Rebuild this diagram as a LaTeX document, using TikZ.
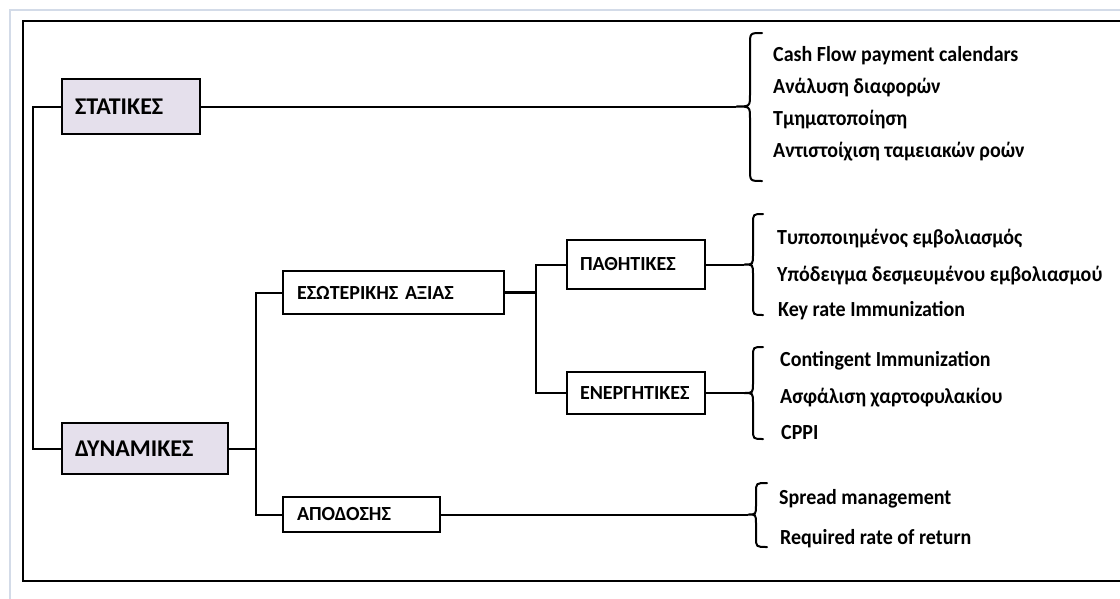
\documentclass[tikz,border=0pt]{standalone}
\usepackage{fontspec}
\setmainfont{Carlito}
\definecolor{lav}{HTML}{E5E0EC}
\definecolor{pale}{HTML}{D3DBE8}
\newcommand{\itm}[1]{\scalebox{0.93}[1]{#1}}
\tikzset{
  box/.style={draw=black, line width=2.2pt, fill=white, inner ysep=0pt, align=left,
     font=\bfseries\fontsize{20}{24}\selectfont},
  bigbox/.style={box, fill=lav, font=\bfseries\fontsize{24}{28}\selectfont},
  conn/.style={draw=black, line width=2pt},
  brace/.style={draw=black, line width=2pt, line cap=round},
  item/.style={anchor=west, inner sep=0pt, font=\bfseries\fontsize{21.5}{25}\selectfont}
}
\begin{document}
\begin{tikzpicture}[x=1pt,y=-1pt]
\clip (0,0) rectangle (1120,598);
\fill[white] (0,0) rectangle (1120,598);
% frames
\draw[pale, line width=2pt] (10,10) rectangle (1150,640);
\draw[black, line width=2.5pt] (23,21) rectangle (1150,581);

% boxes
\node[bigbox, minimum height=55pt, text width=112pt, inner xsep=13pt] (sta) at (131,106.5) {ΣΤΑΤΙΚΕΣ};
\node[bigbox, minimum height=51pt, text width=140pt, inner xsep=13pt] (dyn) at (145,448.5) {ΔΥΝΑΜΙΚΕΣ};
\node[box, minimum height=43pt, text width=193pt, inner xsep=14pt] (eso) at (393.5,292.5) {ΕΣΩΤΕΡΙΚΗΣ ΑΞΙΑΣ};
\node[box, minimum height=49pt, text width=112pt, inner xsep=13pt] (pat) at (636,264.5) {ΠΑΘΗΤΙΚΕΣ};
\node[box, minimum height=42pt, text width=112pt, inner xsep=13pt] (ene) at (636,393) {ΕΝΕΡΓΗΤΙΚΕΣ};
\node[box, minimum height=35pt, text width=129pt, inner xsep=14pt] (apo) at (361.5,514.5) {ΑΠΟΔΟΣΗΣ};

% junctions
\coordinate (l1) at (33,106.5);
\coordinate (j1) at (256,448.5);
\coordinate (j2) at (536,292.5);

% connectors
\draw[conn] (sta.west) -- (l1) |- (dyn.west);
\draw[conn] (dyn.east) -- (j1);
\draw[conn] (eso.west) -| (j1) |- (apo.west);
\draw[conn, line width=3.4pt] (eso.east) -- (j2);
\draw[conn] (pat.west) -| (j2) |- (ene.west);

% brace tips
\coordinate (t1) at (736,106.5);
\coordinate (t2) at (744,264.5);
\coordinate (t3) at (744,393);
\coordinate (t4) at (748,514.5);
\draw[conn] (sta.east) -- (t1);
\draw[conn] (pat.east) -- (t2);
\draw[conn] (ene.east) -- (t3);
\draw[conn] (apo.east) -- (t4);

% braces
\draw[brace] (762,33) .. controls (750,33) .. (750,45) -- (750,94.5)
  .. controls (750,106.5) .. (736,106.5) .. controls (750,106.5) .. (750,118.5)
  -- (750,169) .. controls (750,181) .. (762,181);
\draw[brace] (763,214) .. controls (753,214) .. (753,224) -- (753,254.5)
  .. controls (753,264.5) .. (744,264.5) .. controls (753,264.5) .. (753,274.5)
  -- (753,305) .. controls (753,315) .. (763,315);
\draw[brace] (763,347) .. controls (753,347) .. (753,357) -- (753,383)
  .. controls (753,393) .. (744,393) .. controls (753,393) .. (753,403)
  -- (753,429) .. controls (753,439) .. (763,439);
\draw[brace] (767,483) .. controls (756,483) .. (756,493) -- (756,505)
  .. controls (756,514.5) .. (748,514.5) .. controls (756,514.5) .. (756,524)
  -- (756,537) .. controls (756,547) .. (767,547);

% items
\node[item] (s1) at (773,56) {\itm{Cash Flow payment calendars}};
\node[item] (s2) at (773,88) {\itm{Ανάλυση διαφορών}};
\node[item] (s3) at (773,120) {\itm{Τμηματοποίηση}};
\node[item] (s4) at (773,152) {\itm{Αντιστοίχιση ταμειακών ροών}};

\node[item] (p1) at (777,239) {\itm{Τυποποιημένος εμβολιασμός}};
\node[item] (p2) at (777,276) {\itm{Υπόδειγμα δεσμευμένου εμβολιασμού}};
\node[item] (p3) at (778,311) {\itm{Key rate Immunization}};

\node[item] (e1) at (780,361) {\itm{Contingent Immunization}};
\node[item] (e2) at (780,398) {\itm{Ασφάλιση χαρτοφυλακίου}};
\node[item] (e3) at (781,433) {\itm{CPPI}};

\node[item] (a1) at (779,499) {\itm{Spread management}};
\node[item] (a2) at (780,539) {\itm{Required rate of return}};
\end{tikzpicture}
\end{document}
